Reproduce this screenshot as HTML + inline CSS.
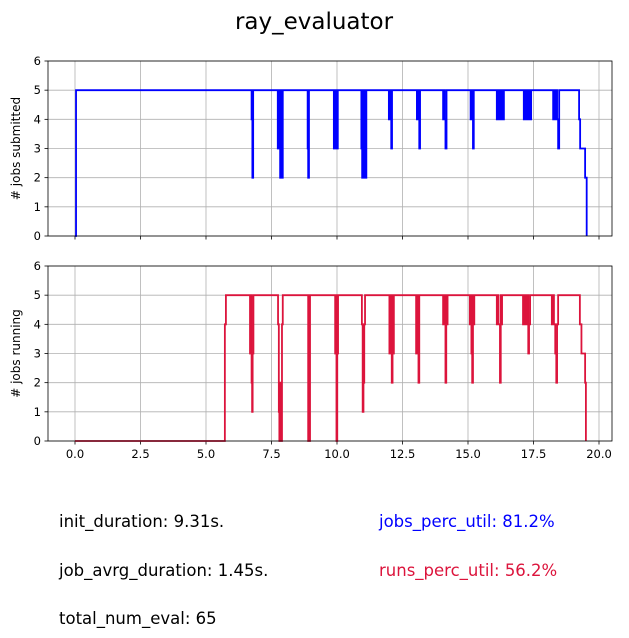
<!DOCTYPE html>
<html><head><meta charset="utf-8"><style>
body{margin:0;background:#fff;font-family:"DejaVu Sans","Liberation Sans",sans-serif}
#wrap{position:relative;width:629px;height:638px}
.t{position:absolute;font-size:16.5px;white-space:nowrap}
svg text{font-family:"DejaVu Sans","Liberation Sans",sans-serif}
</style></head><body>
<div id="wrap">
<svg id="svg" width="629" height="638" style="position:absolute;left:0;top:0"></svg>
<div class="t" style="left:59px;top:512px">init_duration: 9.31s.</div>
<div class="t" style="left:59px;top:561px">job_avrg_duration: 1.45s.</div>
<div class="t" style="left:59px;top:609px">total_num_eval: 65</div>
<div class="t" style="left:379px;top:512px;color:#0000ff">jobs_perc_util: 81.2%</div>
<div class="t" style="left:379px;top:561px;color:#dc143c">runs_perc_util: 56.2%</div>
</div>
<script>
const submittedTimes=[0,0.04,6.74,6.77,6.8,7.74,7.77,7.8,7.83,7.86,7.89,7.93,8.88,8.9,8.93,9.88,9.91,9.94,9.97,10.0,10.03,10.93,10.96,10.99,11.02,11.06,11.09,11.12,11.98,12.01,12.04,12.07,12.1,13.05,13.08,13.11,13.14,13.17,14.05,14.08,14.11,14.14,14.18,15.1,15.13,15.16,15.19,15.22,16.1,16.14,16.18,16.22,16.26,16.3,16.34,16.37,17.13,17.17,17.21,17.25,17.29,17.33,17.37,17.41,18.25,18.29,18.33,18.37,18.4,18.44,18.48,19.24,19.28,19.47,19.53];
const submittedValues=[0,5,4,2,5,3,5,3,2,5,2,5,3,2,5,3,5,3,5,3,5,3,2,5,2,5,2,5,4,5,4,3,5,4,5,4,3,5,4,5,4,3,5,4,5,4,3,5,4,5,4,5,4,5,4,5,4,5,4,5,4,5,4,5,4,5,4,5,4,3,5,4,3,2,0];
const runningTimes=[0,5.72,5.76,6.68,6.71,6.74,6.76,6.78,6.81,7.75,7.78,7.8,7.84,7.87,7.9,7.93,8.9,8.93,8.95,8.97,9.93,9.96,9.98,10.01,10.04,10.95,10.98,11.01,11.04,11.07,12.0,12.03,12.06,12.09,12.12,12.15,12.17,13.02,13.05,13.08,13.11,13.14,14.05,14.08,14.11,14.14,14.17,14.2,14.22,15.07,15.1,15.13,15.16,15.19,15.22,15.24,16.1,16.13,16.16,16.22,16.25,16.28,16.3,17.1,17.13,17.16,17.2,17.23,17.27,17.3,17.33,17.37,18.2,18.24,18.28,18.33,18.37,18.4,18.44,19.27,19.33,19.47,19.5];
const runningValues=[0,4,5,3,5,2,1,3,5,4,1,0,2,0,4,5,0,5,0,5,3,5,0,3,5,4,1,2,4,5,3,5,3,2,5,3,5,3,5,3,2,5,4,5,4,2,5,4,5,4,5,3,2,5,4,5,4,5,4,2,5,4,5,4,5,4,5,4,5,3,4,5,4,5,4,3,2,4,5,4,3,2,0];
const xTicks=[0,2.5,5,7.5,10,12.5,15,17.5,20];
const yTicks=[0,1,2,3,4,5,6];
const NS="http://www.w3.org/2000/svg";
const svg=document.getElementById('svg');
const X0=48,X1=612,xs=t=>75+t*26.2;
function el(tag,a,parent){const e=document.createElementNS(NS,tag);for(const k in a)e.setAttribute(k,a[k]);(parent||svg).appendChild(e);return e;}
const title=el('text',{x:314,y:29,'text-anchor':'middle','font-size':23,fill:'#000'});


title.textContent='ray_evaluator';
function panel(top,bot,times,vals,color,ylabel,name,showX){
  const g=el('g',{});
  
  
  const ys=v=>bot-(bot-top)*v/6;
  xTicks.forEach(t=>{const l=el('line',{x1:xs(t),x2:xs(t),y1:top,y2:bot,stroke:'#b0b0b0','stroke-width':0.8},g);
    el('line',{x1:xs(t),x2:xs(t),y1:bot,y2:bot+3.5,stroke:'#000','stroke-width':0.8},g);
    if(showX){const tx=el('text',{x:xs(t),y:bot+17,'text-anchor':'middle','font-size':11.5},g);tx.textContent=t.toFixed(1);}});
  yTicks.forEach(v=>{const l=el('line',{x1:X0,x2:X1,y1:ys(v),y2:ys(v),stroke:'#b0b0b0','stroke-width':0.8},g);
    el('line',{x1:X0-3.5,x2:X0,y1:ys(v),y2:ys(v),stroke:'#000','stroke-width':0.8},g);
    const tx=el('text',{x:X0-7,y:ys(v)+4,'text-anchor':'end','font-size':11.5},g);tx.textContent=v;});
  let d='M'+xs(times[0])+','+ys(vals[0]);
  for(let i=1;i<times.length;i++){d+=' H'+xs(times[i])+' V'+ys(vals[i]);}
  const p=el('path',{d:d,fill:'none',stroke:color,'stroke-width':1.8},g);
  
  
  const r=el('rect',{x:X0,y:top,width:X1-X0,height:bot-top,fill:'none',stroke:'#000','stroke-width':0.8},g);
  
  
  const yl=el('text',{x:0,y:0,'text-anchor':'middle','font-size':12,transform:'translate(20,'+((top+bot)/2)+') rotate(-90)'},g);
  
  
  yl.textContent=ylabel;
}
panel(61,236,submittedTimes,submittedValues,'#0000ff','# jobs submitted','jobs-submitted-panel',false);
panel(266,441,runningTimes,runningValues,'#dc143c','# jobs running','jobs-running-panel',true);
</script>
</body></html>
